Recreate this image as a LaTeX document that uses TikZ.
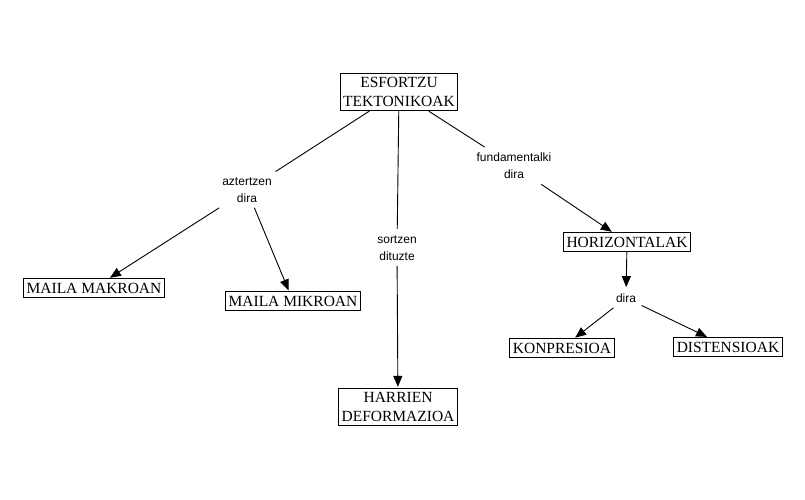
\documentclass[tikz,border=0pt]{standalone}
\usepackage{fontspec}
\setmainfont{Liberation Serif}
\newfontfamily\linkfont{Liberation Sans}
\usetikzlibrary{arrows.meta}

\begin{document}
\begin{tikzpicture}[x=1pt,y=-1pt,>={Triangle[length=11pt,width=9pt]},shorten >=1pt,line width=0.9pt,
		concept/.style={rectangle,draw,align=center,inner xsep=3pt,inner ysep=4pt,font=\fontsize{15.5}{19}\selectfont},
		link/.style={align=center,inner sep=5pt,font=\linkfont\fontsize{12}{17}\selectfont}]
		% kontzeptuak
		\useasboundingbox (0,0) rectangle (805,500);
		\node[concept] (esf) at (399,92) {ESFORTZU\\TEKTONIKOAK};
		\node[link] (azt) at (247,190) {aztertzen\\dira};
		\node[link] (sor) at (397,248) {sortzen\\dituzte};
		\node[link] (fun) at (514,166) {fundamentalki\\dira};
		\node[concept] (makro) at (94,288) {MAILA MAKROAN};
		\node[concept] (mikro) at (293,301) {MAILA MIKROAN};
		\node[concept] (harri) at (398,407) {HARRIEN\\DEFORMAZIOA};
		\node[concept] (hori) at (627,242) {HORIZONTALAK};
		\node[link] (dira) at (626,298) {dira};
		\node[concept] (konp) at (562,348) {KONPRESIOA};
		\node[concept] (dist) at (728,347) {DISTENSIOAK};
		\path[-]
		(esf) edge (azt)
		(esf) edge (sor)
		(esf) edge (fun);
		\path[->]
		(azt) edge (makro)
		(azt) edge (mikro)
		(sor) edge (harri)
		(fun) edge (hori)
		(hori) edge (dira)
		(dira) edge (konp)
		(dira) edge (dist);
\end{tikzpicture}
\end{document}
